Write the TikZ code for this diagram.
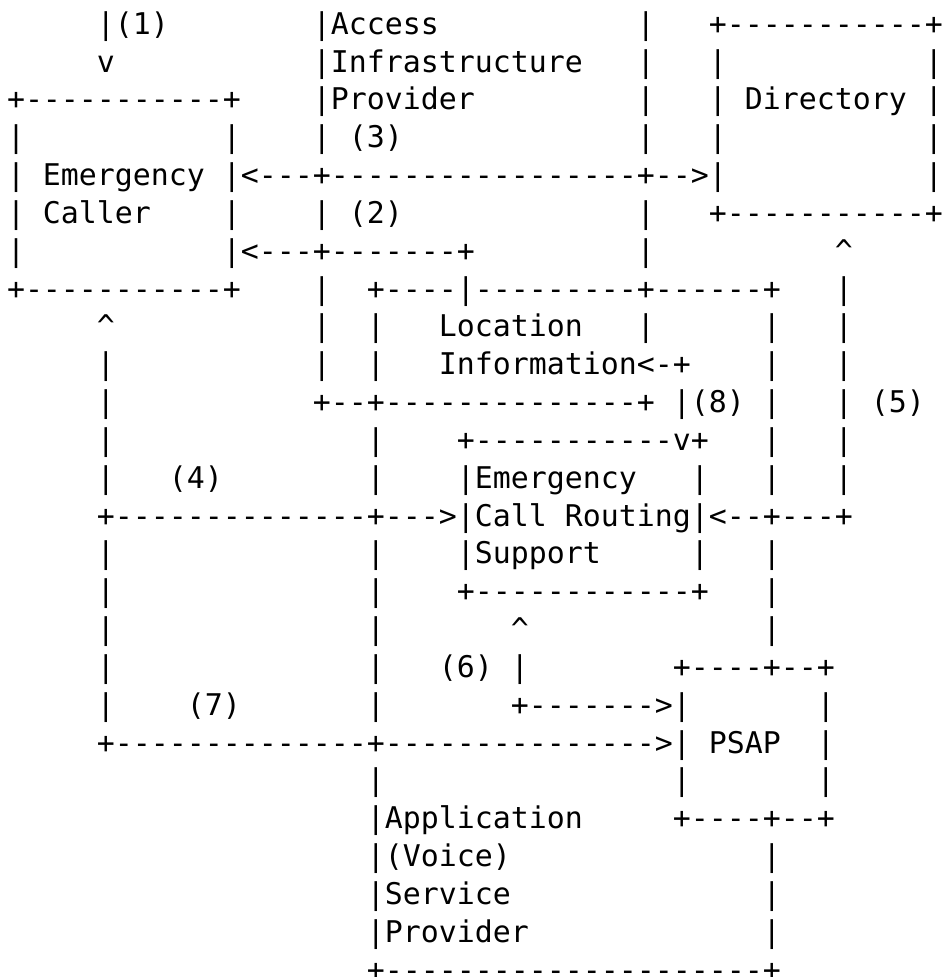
\documentclass[tikz,border=0pt]{standalone}
\usepackage{fontspec}
\setmonofont{DejaVu Sans Mono}
\newlength{\chw}
\setlength{\chw}{9pt}
\newcommand{\gap}[1]{\hspace*{#1\chw}}
\newcommand{\up}{\textasciicircum}
\tikzset{
  ascii/.style={
    font=\ttfamily\fontsize{14.949pt}{18.9pt}\selectfont,
    anchor=base west,
    inner sep=0pt,
    outer sep=0pt
  }
}

\begin{document}
\begin{tikzpicture}[x=\chw,y=-18.915pt]
\useasboundingbox (-0.889,-0.907) rectangle (51.5,24.92);
% one node per line of the figure
\node[ascii] (r1)  at (-0.5,0)  {\gap5|(1)\gap8|Access\gap{11}|\gap3+-----------+};
\node[ascii] (r2)  at (-0.5,1)  {\gap5v\gap{11}|Infrastructure\gap3|\gap3|\gap{11}|};
\node[ascii] (r3)  at (-0.5,2)  {+-----------+\gap4|Provider\gap9|\gap3|\gap1Directory\gap1|};
\node[ascii] (r4)  at (-0.5,3)  {|\gap{11}|\gap4|\gap1(3)\gap{13}|\gap3|\gap{11}|};
\node[ascii] (r5)  at (-0.5,4)  {|\gap1Emergency\gap1|<---+-----------------+-->|\gap{11}|};
\node[ascii] (r6)  at (-0.5,5)  {|\gap1Caller\gap4|\gap4|\gap1(2)\gap{13}|\gap3+-----------+};
\node[ascii] (r7)  at (-0.5,6)  {|\gap{11}|<---+-------+\gap9|\gap{10}\up};
\node[ascii] (r8)  at (-0.5,7)  {+-----------+\gap4|\gap2+----|---------+------+\gap3|};
\node[ascii] (r9)  at (-0.5,8)  {\gap5\up\gap{11}|\gap2|\gap3Location\gap3|\gap6|\gap3|};
\node[ascii] (r10) at (-0.5,9)  {\gap5|\gap{11}|\gap2|\gap3Information<-+\gap4|\gap3|};
\node[ascii] (r11) at (-0.5,10) {\gap5|\gap{11}+--+--------------+\gap1|(8)\gap1|\gap3|\gap1(5)};
\node[ascii] (r12) at (-0.5,11) {\gap5|\gap{14}|\gap4+-----------v+\gap3|\gap3|};
\node[ascii] (r13) at (-0.5,12) {\gap5|\gap3(4)\gap8|\gap4|Emergency\gap3|\gap3|\gap3|};
\node[ascii] (r14) at (-0.5,13) {\gap5+--------------+--->|Call\gap1Routing|<--+---+};
\node[ascii] (r15) at (-0.5,14) {\gap5|\gap{14}|\gap4|Support\gap5|\gap3|};
\node[ascii] (r16) at (-0.5,15) {\gap5|\gap{14}|\gap4+------------+\gap3|};
\node[ascii] (r17) at (-0.5,16) {\gap5|\gap{14}|\gap7\up\gap{13}|};
\node[ascii] (r18) at (-0.5,17) {\gap5|\gap{14}|\gap3(6)\gap1|\gap8+----+--+};
\node[ascii] (r19) at (-0.5,18) {\gap5|\gap4(7)\gap7|\gap7+------->|\gap7|};
\node[ascii] (r20) at (-0.5,19) {\gap5+--------------+--------------->|\gap1PSAP\gap2|};
\node[ascii] (r21) at (-0.5,20) {\gap{20}|\gap{16}|\gap7|};
\node[ascii] (r22) at (-0.5,21) {\gap{20}|Application\gap5+----+--+};
\node[ascii] (r23) at (-0.5,22) {\gap{20}|(Voice)\gap{14}|};
\node[ascii] (r24) at (-0.5,23) {\gap{20}|Service\gap{14}|};
\node[ascii] (r25) at (-0.5,24) {\gap{20}|Provider\gap{13}|};
\node[ascii] (r26) at (-0.5,25) {\gap{20}+---------------------+};
\end{tikzpicture}
\end{document}
